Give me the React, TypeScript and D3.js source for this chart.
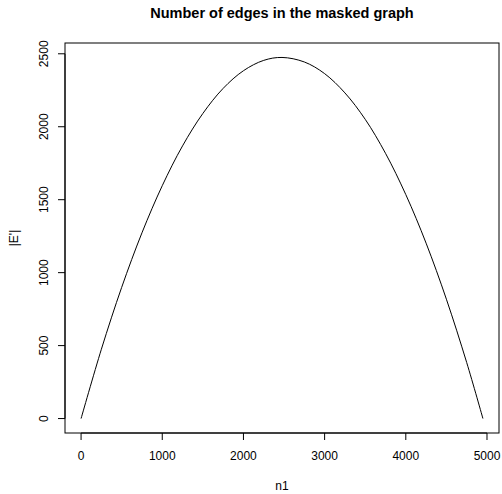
import React from "react";
import * as d3 from "d3";

const n1Values = [0, 250, 500, 750, 1000, 1250, 1500, 1750, 2000, 2250, 2475, 2750, 3000, 3250, 3500, 3750, 4000, 4250, 4500, 4750, 4950];
const edgeValues = [0, 475, 899, 1273, 1596, 1869, 2091, 2263, 2384, 2455, 2475, 2444, 2364, 2232, 2051, 1818, 1535, 1202, 818, 384, 0];
const xTicks = [0, 1000, 2000, 3000, 4000, 5000];
const yTicks = [0, 500, 1000, 1500, 2000, 2500];

const W = 502, H = 494;
const left = 65, right = 499, top = 43, bottom = 433;
const font = "'Liberation Sans', Arial, Helvetica, sans-serif";

export default function App() {
  const x = d3.scaleLinear().domain([-198, 5148]).range([left, right]);
  const y = d3.scaleLinear().domain([-99, 2574]).range([bottom, top]);
  const pts = n1Values.map((v, i) => [v, edgeValues[i]] as [number, number]);
  const line = d3.line<[number, number]>().x(d => x(d[0])).y(d => y(d[1])).curve(d3.curveCatmullRom.alpha(0.5));
  return (
    <svg width={W} height={H} style={{ display: "block", position: "absolute", left: 0, top: 0, background: "#fff" }}>
      <rect x={0} y={0} width={W} height={H} fill="#fff" />
      <text x={(left + right) / 2} y={18} textAnchor="middle" fontFamily={font} fontWeight="bold" fontSize={14.5}>Number of edges in the masked graph</text>
      <rect x={left} y={top} width={right - left} height={bottom - top} fill="none" stroke="#000" strokeWidth={1} />
      <path d={line(pts) || ""} fill="none" stroke="#000" strokeWidth={1} />
      {/* x axis */}
      <line x1={x(0)} x2={x(5000)} y1={bottom} y2={bottom} stroke="#000" />
      {xTicks.map(t => (
        <g key={"x" + t}>
          <line x1={x(t)} x2={x(t)} y1={bottom} y2={bottom + 7} stroke="#000" />
          <text x={x(t)} y={bottom + 27} textAnchor="middle" fontFamily={font} fontSize={12}>{t}</text>
        </g>
      ))}
      <text x={(left + right) / 2} y={bottom + 57} textAnchor="middle" fontFamily={font} fontSize={12}>n1</text>
      {/* y axis */}
      <line x1={left} x2={left} y1={y(0)} y2={y(2500)} stroke="#000" />
      {yTicks.map(t => (
        <g key={"y" + t}>
          <line x1={left} x2={left - 7} y1={y(t)} y2={y(t)} stroke="#000" />
          <text transform={`translate(${left - 17},${y(t)}) rotate(-90)`} textAnchor="middle" fontFamily={font} fontSize={12}>{t}</text>
        </g>
      ))}
      <text transform={`translate(${18},${(top + bottom) / 2}) rotate(-90)`} textAnchor="middle" fontFamily={font} fontSize={12}>|E'|</text>
    </svg>
  );
}
